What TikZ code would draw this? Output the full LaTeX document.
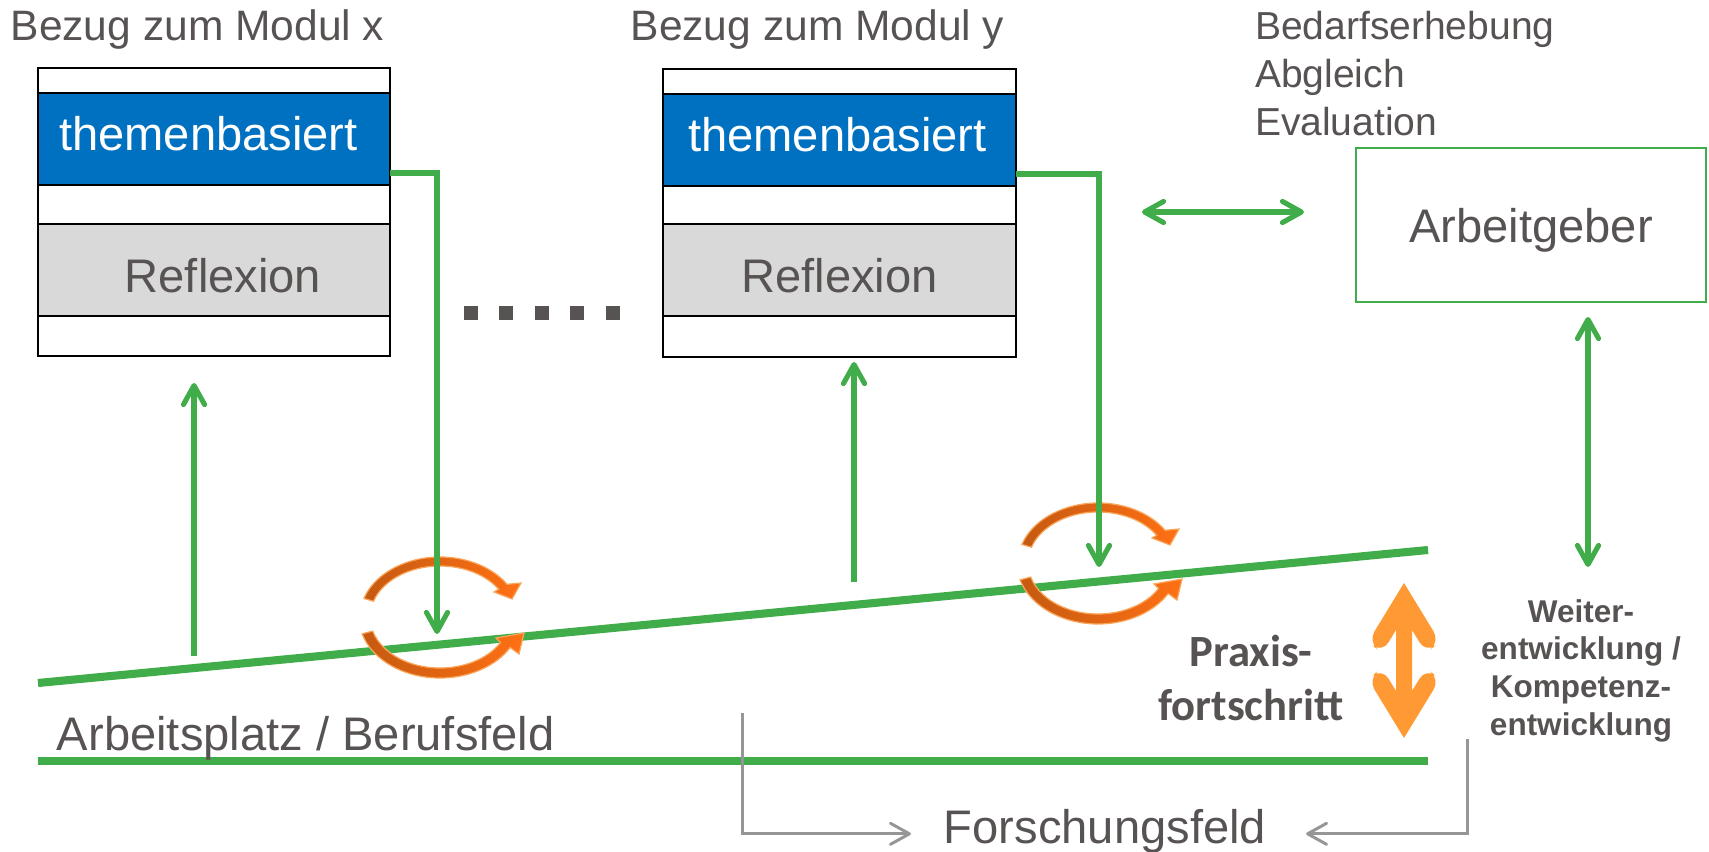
\documentclass[tikz,border=0pt]{standalone}
\usepackage{fontspec}
\setmainfont{Liberation Sans}
\newfontfamily\calibrifont{Carlito}
\usetikzlibrary{arrows.meta,calc}

\definecolor{txt}{RGB}{87,83,82}
\definecolor{grn}{RGB}{64,173,74}
\definecolor{blu}{RGB}{0,112,192}
\definecolor{lgray}{RGB}{217,217,217}
\definecolor{orng}{RGB}{255,153,51}
\definecolor{orngdark}{RGB}{197,90,17}
\definecolor{orngmid}{RGB}{247,150,70}
\definecolor{orngbright}{RGB}{255,112,20}
\definecolor{orngrim}{RGB}{249,166,90}
\definecolor{conn}{RGB}{150,150,150}

% a pair of curved orange arrows around a centre point
\newcommand\cyclepair[1]{%
  \begin{scope}[shift={(#1)}]
    \path[cyc] (162:80 and 60) arc[start angle=162,end angle=33,x radius=80,y radius=60]
      -- (81,34) -- (72,18) -- (54,25) -- (33:70 and 51)
      arc[start angle=33,end angle=162,x radius=70,y radius=51] -- cycle;
    \path[cyc] (196:81 and 61) arc[start angle=196,end angle=330,x radius=81,y radius=61]
      -- (79,-37) -- (84,-16) -- (56,-21) -- (330:70 and 51)
      arc[start angle=330,end angle=196,x radius=70,y radius=51] -- cycle;
  \end{scope}}

\begin{document}
\begin{tikzpicture}[x=0.01cm,y=0.01cm,
  >={Straight Barb[length=5.4pt,width=6pt,round]},
  every node/.style={inner sep=0pt,outer sep=0pt},
  bigtxt/.style={font=\fontsize{13.4pt}{16pt}\selectfont,text=txt},
  titletxt/.style={font=\fontsize{12.1pt}{14.5pt}\selectfont,text=txt},
  rowbox/.style={rectangle,draw=black,line width=0.6pt,minimum width=3.52cm},
  gline/.style={draw=grn,line width=1.45pt},
  thickgreen/.style={draw=grn,line width=2.3pt},
  gconn/.style={draw=conn,line width=0.85pt},
  cyc/.style={draw=orngrim,line width=0.35pt,left color=orngdark,middle color=orngmid,right color=orngbright},
]
\useasboundingbox (0,0) rectangle (1709,-852);

% ---- module x ----
\node[titletxt,anchor=base] (tx) at (197.5,-41) {Bezug zum Modul x};
\node[rowbox,minimum height=2.88cm] (x1frame) at (214,-212) {};
\node[rowbox,fill=blu,minimum height=0.92cm] (x1blue) at (214,-139) {};
\node[rowbox,fill=lgray,minimum height=0.92cm] (x1gray) at (214,-270) {};
\node[bigtxt,text=white,anchor=base] (x1tb) at (208.5,-151) {themenbasiert};
\node[bigtxt,anchor=base] (x1rf) at (223,-293) {Reflexion};

% ---- module y ----
\node[titletxt,anchor=base] (ty) at (817.5,-41) {Bezug zum Modul y};
\node[rowbox,minimum height=2.88cm] (x2frame) at (839.5,-213) {};
\node[rowbox,fill=blu,minimum height=0.92cm] (x2blue) at (839.5,-140) {};
\node[rowbox,fill=lgray,minimum height=0.92cm] (x2gray) at (839.5,-270) {};
\node[bigtxt,text=white,anchor=base] (x2tb) at (837.5,-152) {themenbasiert};
\node[bigtxt,anchor=base] (x2rf) at (839.5,-293) {Reflexion};

% ---- dots between the modules ----
\foreach \dx in {470.8,505.8,541.8,576.8,612.8}
  \fill[txt] (\dx-7,-306) rectangle (\dx+7,-320);

% ---- employer ----
\node[font=\fontsize{11.1pt}{13.66pt}\selectfont,text=txt,align=left,anchor=base west]
  (bed) at (1255,-136) {Bedarfserhebung\\Abgleich\\Evaluation};
\node[rectangle,draw=grn,line width=0.7pt,minimum width=3.5cm,minimum height=1.54cm,
  text depth=0pt,bigtxt] (arb) at (1531,-225) {Arbeitgeber};

% ---- work place lines ----
\coordinate (slopeL) at (38,-683);
\coordinate (slopeR) at (1428,-550);
\coordinate (baseL) at (38,-761);
\coordinate (baseR) at (1428,-761);
\draw[thickgreen] (slopeL) -- (slopeR);
\draw[thickgreen] (baseL) -- (baseR);
\node[bigtxt,anchor=base west] (apl) at (57,-750) {Arbeitsplatz / Berufsfeld};

% ---- orange cycles ----
\cyclepair{440,-617}
\cyclepair{1098,-563}

% ---- green connectors ----
\coordinate (x1out) at ($(x1blue.south east)+(0,12)$);
\coordinate (x1drop) at (437,-634);
\draw[gline,->] (x1out) -| (x1drop);
\coordinate (x2out) at ($(x2blue.south east)+(0,12)$);
\coordinate (x2drop) at (1099,-567);
\draw[gline,->] (x2out) -| (x2drop);

\coordinate (u1a) at (194,-656);
\coordinate (u1b) at (194,-383);
\draw[gline,->] (u1a) -- (u1b);
\coordinate (u2a) at (854,-582);
\coordinate (u2b) at (854,-362);
\draw[gline,->] (u2a) -- (u2b);

\coordinate (hA) at (1142,-212);
\coordinate (hB) at (1304,-212);
\draw[gline,<->] (hA) -- (hB);
\coordinate (vA) at (1588,-317);
\coordinate (vB) at (1588,-567);
\draw[gline,<->] (vA) -- (vB);

% ---- practice progress ----
\node[font=\calibrifont\bfseries\fontsize{12.7pt}{15.1pt}\selectfont,text=txt,align=center,anchor=base]
  (prax) at (1251,-720) {Praxis-\\fortschritt};
\fill[orng] (1404,-583) [rounded corners=3.5pt] -- (1440,-642) -- (1426,-653) [sharp corners]
  -- (1412,-630) -- (1412,-691) [rounded corners=3.5pt] -- (1426,-668) -- (1440,-679) [sharp corners]
  -- (1404,-738) [rounded corners=3.5pt] -- (1368,-679) -- (1382,-668) [sharp corners]
  -- (1396,-691) -- (1396,-630) [rounded corners=3.5pt] -- (1382,-653) -- (1368,-642) [sharp corners] -- cycle;

\node[font=\bfseries\fontsize{8.96pt}{10.67pt}\selectfont,text=txt,align=center,anchor=base]
  (weiter) at (1581,-735) {Weiter-\\entwicklung /\\Kompetenz-\\entwicklung};

% ---- research field ----
\node[bigtxt,anchor=base] (forsch) at (1105,-843) {Forschungsfeld};
\coordinate (gL) at (742,-713);
\coordinate (gR) at (1467,-739);
\draw[gconn,->,shorten >=0.33cm] (gL) |- ([yshift=-0.03cm]forsch.west);
\draw[gconn,->,shorten >=0.40cm] (gR) |- ([yshift=-0.03cm]forsch.east);
\end{tikzpicture}
\end{document}
